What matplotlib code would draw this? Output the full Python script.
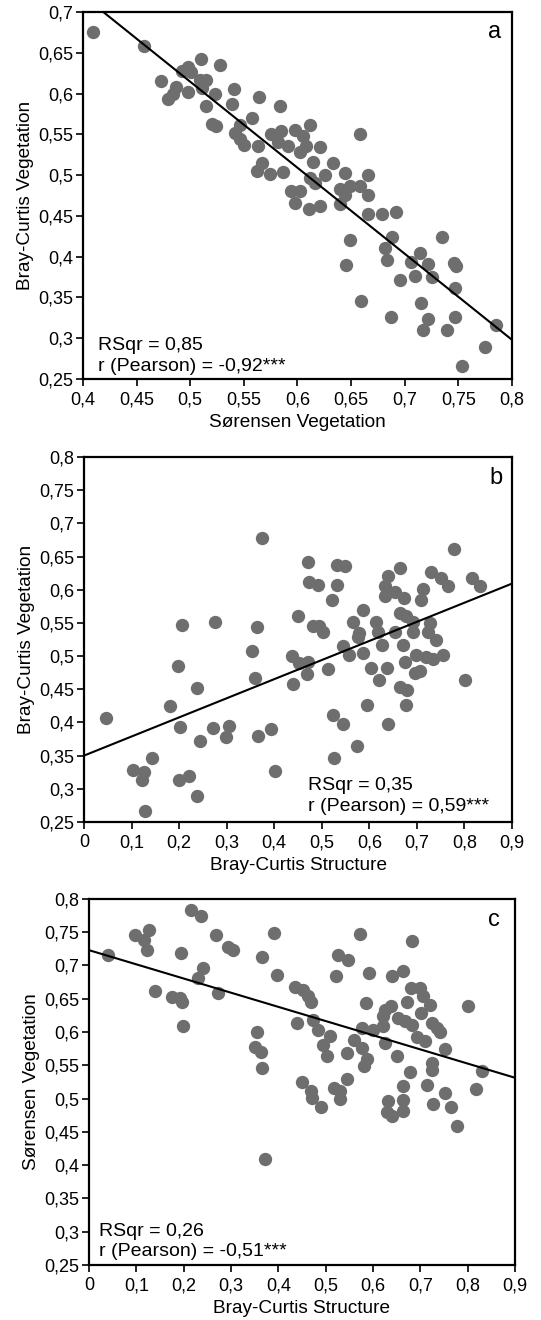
import matplotlib
matplotlib.use('Agg')
import matplotlib.pyplot as plt
import numpy as np
from matplotlib.ticker import MultipleLocator, FuncFormatter

plt.rcParams['font.family'] = ['Liberation Sans', 'DejaVu Sans']

# panel a: Sørensen vegetation vs Bray-Curtis vegetation
a_x = [0.409, 0.4565, 0.473, 0.479, 0.484, 0.487, 0.492, 0.498, 0.501, 0.498, 0.510, 0.509, 0.515,
       0.5105, 0.523, 0.5276, 0.515, 0.520, 0.524, 0.541, 0.539, 0.5415, 0.546, 0.550, 0.558, 0.564,
       0.546, 0.563, 0.5665, 0.562, 0.574, 0.575, 0.5835, 0.585, 0.582, 0.591, 0.5865, 0.598, 0.605,
       0.602, 0.6115, 0.608, 0.614, 0.5935, 0.5975, 0.602, 0.611, 0.621, 0.6115, 0.616, 0.621, 0.6255,
       0.633, 0.644, 0.6395, 0.644, 0.649, 0.6395, 0.658, 0.666, 0.666, 0.658, 0.666, 0.679, 0.692,
       0.649, 0.6456, 0.683, 0.682, 0.6885, 0.696, 0.6596, 0.6876, 0.706, 0.7146, 0.710, 0.7218, 0.725,
       0.7155, 0.7218, 0.717, 0.735, 0.7457, 0.748, 0.7466, 0.7466, 0.7395, 0.785, 0.775, 0.753]
a_y = [0.676, 0.6585, 0.616, 0.593, 0.599, 0.608, 0.628, 0.632, 0.627, 0.602, 0.642, 0.617, 0.617,
       0.607, 0.600, 0.635, 0.585, 0.563, 0.560, 0.605, 0.587, 0.552, 0.544, 0.537, 0.570, 0.596,
       0.562, 0.536, 0.515, 0.505, 0.501, 0.550, 0.585, 0.554, 0.540, 0.536, 0.504, 0.555, 0.548,
       0.528, 0.561, 0.536, 0.516, 0.480, 0.466, 0.481, 0.4585, 0.4626, 0.497, 0.490, 0.534, 0.500,
       0.515, 0.503, 0.483, 0.475, 0.487, 0.4646, 0.550, 0.500, 0.475, 0.487, 0.4525, 0.4525, 0.4545,
       0.420, 0.390, 0.396, 0.411, 0.4235, 0.371, 0.346, 0.326, 0.394, 0.405, 0.376, 0.391, 0.3747,
       0.3437, 0.323, 0.310, 0.4235, 0.392, 0.388, 0.362, 0.326, 0.310, 0.316, 0.289, 0.266]
a_fit = (1.142, -1.055)  # intercept, slope

# panel b: Bray-Curtis structure vs Bray-Curtis vegetation
b_x = [0.3737, 0.470, 0.474, 0.4926, 0.531, 0.5486, 0.531, 0.5206, 0.4507, 0.482, 0.495, 0.503,
       0.2057, 0.2757, 0.3646, 0.587, 0.566, 0.5787, 0.615, 0.619, 0.6396, 0.6326, 0.6326, 0.6536,
       0.664, 0.6725, 0.664, 0.678, 0.692, 0.6536, 0.692, 0.713, 0.7096, 0.727, 0.7236, 0.741,
       0.729, 0.7516, 0.7656, 0.7775, 0.8167, 0.832, 0.545, 0.6256, 0.671,
       0.0455, 0.104, 0.1267, 0.1218, 0.143, 0.1274, 0.180, 0.197, 0.201, 0.1987, 0.221, 0.237,
       0.244, 0.2386, 0.2708, 0.3058, 0.2988, 0.354, 0.3597, 0.3653, 0.3926, 0.4017, 0.4367, 0.440,
       0.4528, 0.4717, 0.468, 0.5136, 0.5227, 0.526, 0.5577, 0.545, 0.5745, 0.5766, 0.587, 0.6025,
       0.5955, 0.6207, 0.6375, 0.6396, 0.6746, 0.664, 0.6795, 0.678, 0.699, 0.720, 0.734, 0.755,
       0.6956, 0.7075, 0.8006]
b_y = [0.6776, 0.6414, 0.6123, 0.607, 0.637, 0.636, 0.607, 0.585, 0.561, 0.5446, 0.5456, 0.537,
       0.547, 0.552, 0.5436, 0.570, 0.552, 0.5346, 0.552, 0.537, 0.620, 0.605, 0.591, 0.597,
       0.6324, 0.5872, 0.5647, 0.5597, 0.552, 0.537, 0.537, 0.6008, 0.5847, 0.5496, 0.537, 0.5235,
       0.6274, 0.617, 0.605, 0.661, 0.617, 0.605, 0.5155, 0.517, 0.517,
       0.4066, 0.3288, 0.3250, 0.313, 0.3466, 0.2661, 0.4242, 0.4844, 0.3926, 0.313, 0.319, 0.4518,
       0.3715, 0.2896, 0.3916, 0.394, 0.3775, 0.507, 0.467, 0.379, 0.3896, 0.3274, 0.5007, 0.4583,
       0.489, 0.4917, 0.4726, 0.481, 0.4116, 0.3466, 0.5017, 0.397, 0.364, 0.528, 0.504, 0.482,
       0.4256, 0.4643, 0.482, 0.397, 0.4917, 0.454, 0.449, 0.4256, 0.5017, 0.499, 0.496, 0.5017,
       0.4742, 0.478, 0.4643]
b_fit = (0.350, 0.288)

# panel c: Bray-Curtis structure vs Sørensen vegetation
c_x = [0.0408, 0.0972, 0.116, 0.1275, 0.1218, 0.1394, 0.1746, 0.192, 0.1958, 0.1993, 0.1944, 0.2155,
       0.236, 0.2415, 0.231, 0.2683, 0.2732, 0.2944, 0.3035, 0.3542, 0.3507, 0.3634, 0.3648, 0.3648,
       0.3915, 0.398, 0.435, 0.4528, 0.4634, 0.4683, 0.4387, 0.4725, 0.4845, 0.4937, 0.509, 0.5035,
       0.5268, 0.548, 0.522, 0.5725, 0.592, 0.585, 0.576, 0.560, 0.5444, 0.576, 0.5866, 0.581,
       0.6007, 0.6204, 0.6204, 0.6254, 0.638, 0.6254, 0.6394, 0.664, 0.6817, 0.650, 0.6535, 0.6676,
       0.6817, 0.671, 0.6796, 0.6993, 0.7007, 0.705, 0.720, 0.6923, 0.710, 0.7254, 0.7352, 0.7423,
       0.7254, 0.7246, 0.6782, 0.7521, 0.8014, 0.8296, 0.5444, 0.4493,
       0.4683, 0.4704, 0.4894, 0.5176, 0.530, 0.530, 0.6324, 0.6289, 0.6394, 0.664, 0.664, 0.6627,
       0.7134, 0.7275, 0.752, 0.764, 0.7768, 0.8176, 0.3718]
c_y = [0.7153, 0.7464, 0.7389, 0.7529, 0.7228, 0.6612, 0.6527, 0.6512, 0.6447, 0.6086, 0.7188, 0.784,
       0.775, 0.6963, 0.6813, 0.7464, 0.6587, 0.7279, 0.7228, 0.5996, 0.5776, 0.5695, 0.546, 0.7123,
       0.7489, 0.6863, 0.6677, 0.6627, 0.6537, 0.6447, 0.6136, 0.6176, 0.6036, 0.5811, 0.5936, 0.5635,
       0.7163, 0.7078, 0.6838, 0.7474, 0.6888, 0.6437, 0.6061, 0.5886, 0.5685, 0.576, 0.5595, 0.5495,
       0.6036, 0.6086, 0.6237, 0.6337, 0.6387, 0.5836, 0.6838, 0.6913, 0.7364, 0.5645, 0.6212, 0.6161,
       0.6111, 0.6447, 0.6662, 0.6662, 0.6287, 0.6537, 0.6412, 0.5926, 0.586, 0.6136, 0.6061, 0.5996,
       0.5535, 0.5425, 0.5395, 0.5745, 0.6397, 0.541, 0.5294, 0.5244,
       0.5109, 0.5009, 0.4874, 0.5159, 0.5109, 0.5, 0.4969, 0.4794, 0.4744, 0.5189, 0.4979, 0.4814,
       0.5204, 0.4919, 0.5079, 0.4874, 0.4584, 0.5139, 0.4088]
c_fit = (0.723, -0.213)

panels = [
    dict(x=a_x, y=a_y, fit=a_fit, xlim=(0.4, 0.8), xstep=0.05, ylim=(0.25, 0.7),
         xlabel='Sørensen Vegetation', ylabel='Bray-Curtis Vegetation', letter='a',
         stats='RSqr = 0,85\nr (Pearson) = -0,92***', stats_pos=(0.035, 0.012),
         rect=[0.1534, 0.7129, 0.793, 0.278], letter_pos=(0.975, 0.929)),
    dict(x=b_x, y=b_y, fit=b_fit, xlim=(0, 0.9), xstep=0.1, ylim=(0.25, 0.8),
         xlabel='Bray-Curtis Structure', ylabel='Bray-Curtis Vegetation', letter='b',
         stats='RSqr = 0,35\nr (Pearson) = 0,59***', stats_pos=(0.523, 0.02),
         rect=[0.1553, 0.3773, 0.7911, 0.2765], letter_pos=(0.977, 0.926)),
    dict(x=c_x, y=c_y, fit=c_fit, xlim=(0, 0.9), xstep=0.1, ylim=(0.25, 0.8),
         xlabel='Bray-Curtis Structure', ylabel='Sørensen Vegetation', letter='c',
         stats='RSqr = 0,26\nr (Pearson) = -0,51***', stats_pos=(0.024, 0.014),
         rect=[0.1645, 0.0417, 0.7874, 0.2773], letter_pos=(0.965, 0.926)),
]

comma = FuncFormatter(lambda v, pos: ('%g' % round(v, 3)).replace('.', ','))

fig = plt.figure(figsize=(5.41, 13.2), dpi=100)
for p in panels:
    ax = fig.add_axes(p['rect'])
    ax.scatter(p['x'], p['y'], s=92, color='#6e6e6e', linewidths=0, zorder=2)
    b0, b1 = p['fit']
    lx = np.array(p['xlim'])
    ax.plot(lx, b0 + b1 * lx, color='black', lw=1.5, zorder=3)
    ax.set_xlim(*p['xlim'])
    ax.set_ylim(*p['ylim'])
    ax.xaxis.set_major_locator(MultipleLocator(p['xstep']))
    ax.yaxis.set_major_locator(MultipleLocator(0.05))
    ax.xaxis.set_major_formatter(comma)
    ax.yaxis.set_major_formatter(comma)
    ax.tick_params(direction='out', length=5, width=1.2, labelsize=13, pad=2)
    ax.tick_params(axis='x', pad=4)
    for sp in ax.spines.values():
        sp.set_linewidth(1.6)
    ax.set_xlabel(p['xlabel'], fontsize=13.7, labelpad=4)
    ax.set_ylabel(p['ylabel'], fontsize=13.7, labelpad=3)
    ax.text(*p['stats_pos'], p['stats'], transform=ax.transAxes, fontsize=14,
            ha='left', va='bottom', linespacing=1.25)
    ax.text(*p['letter_pos'], p['letter'], transform=ax.transAxes, fontsize=17,
            ha='right', va='baseline')

fig.savefig('out.png', dpi=100)
